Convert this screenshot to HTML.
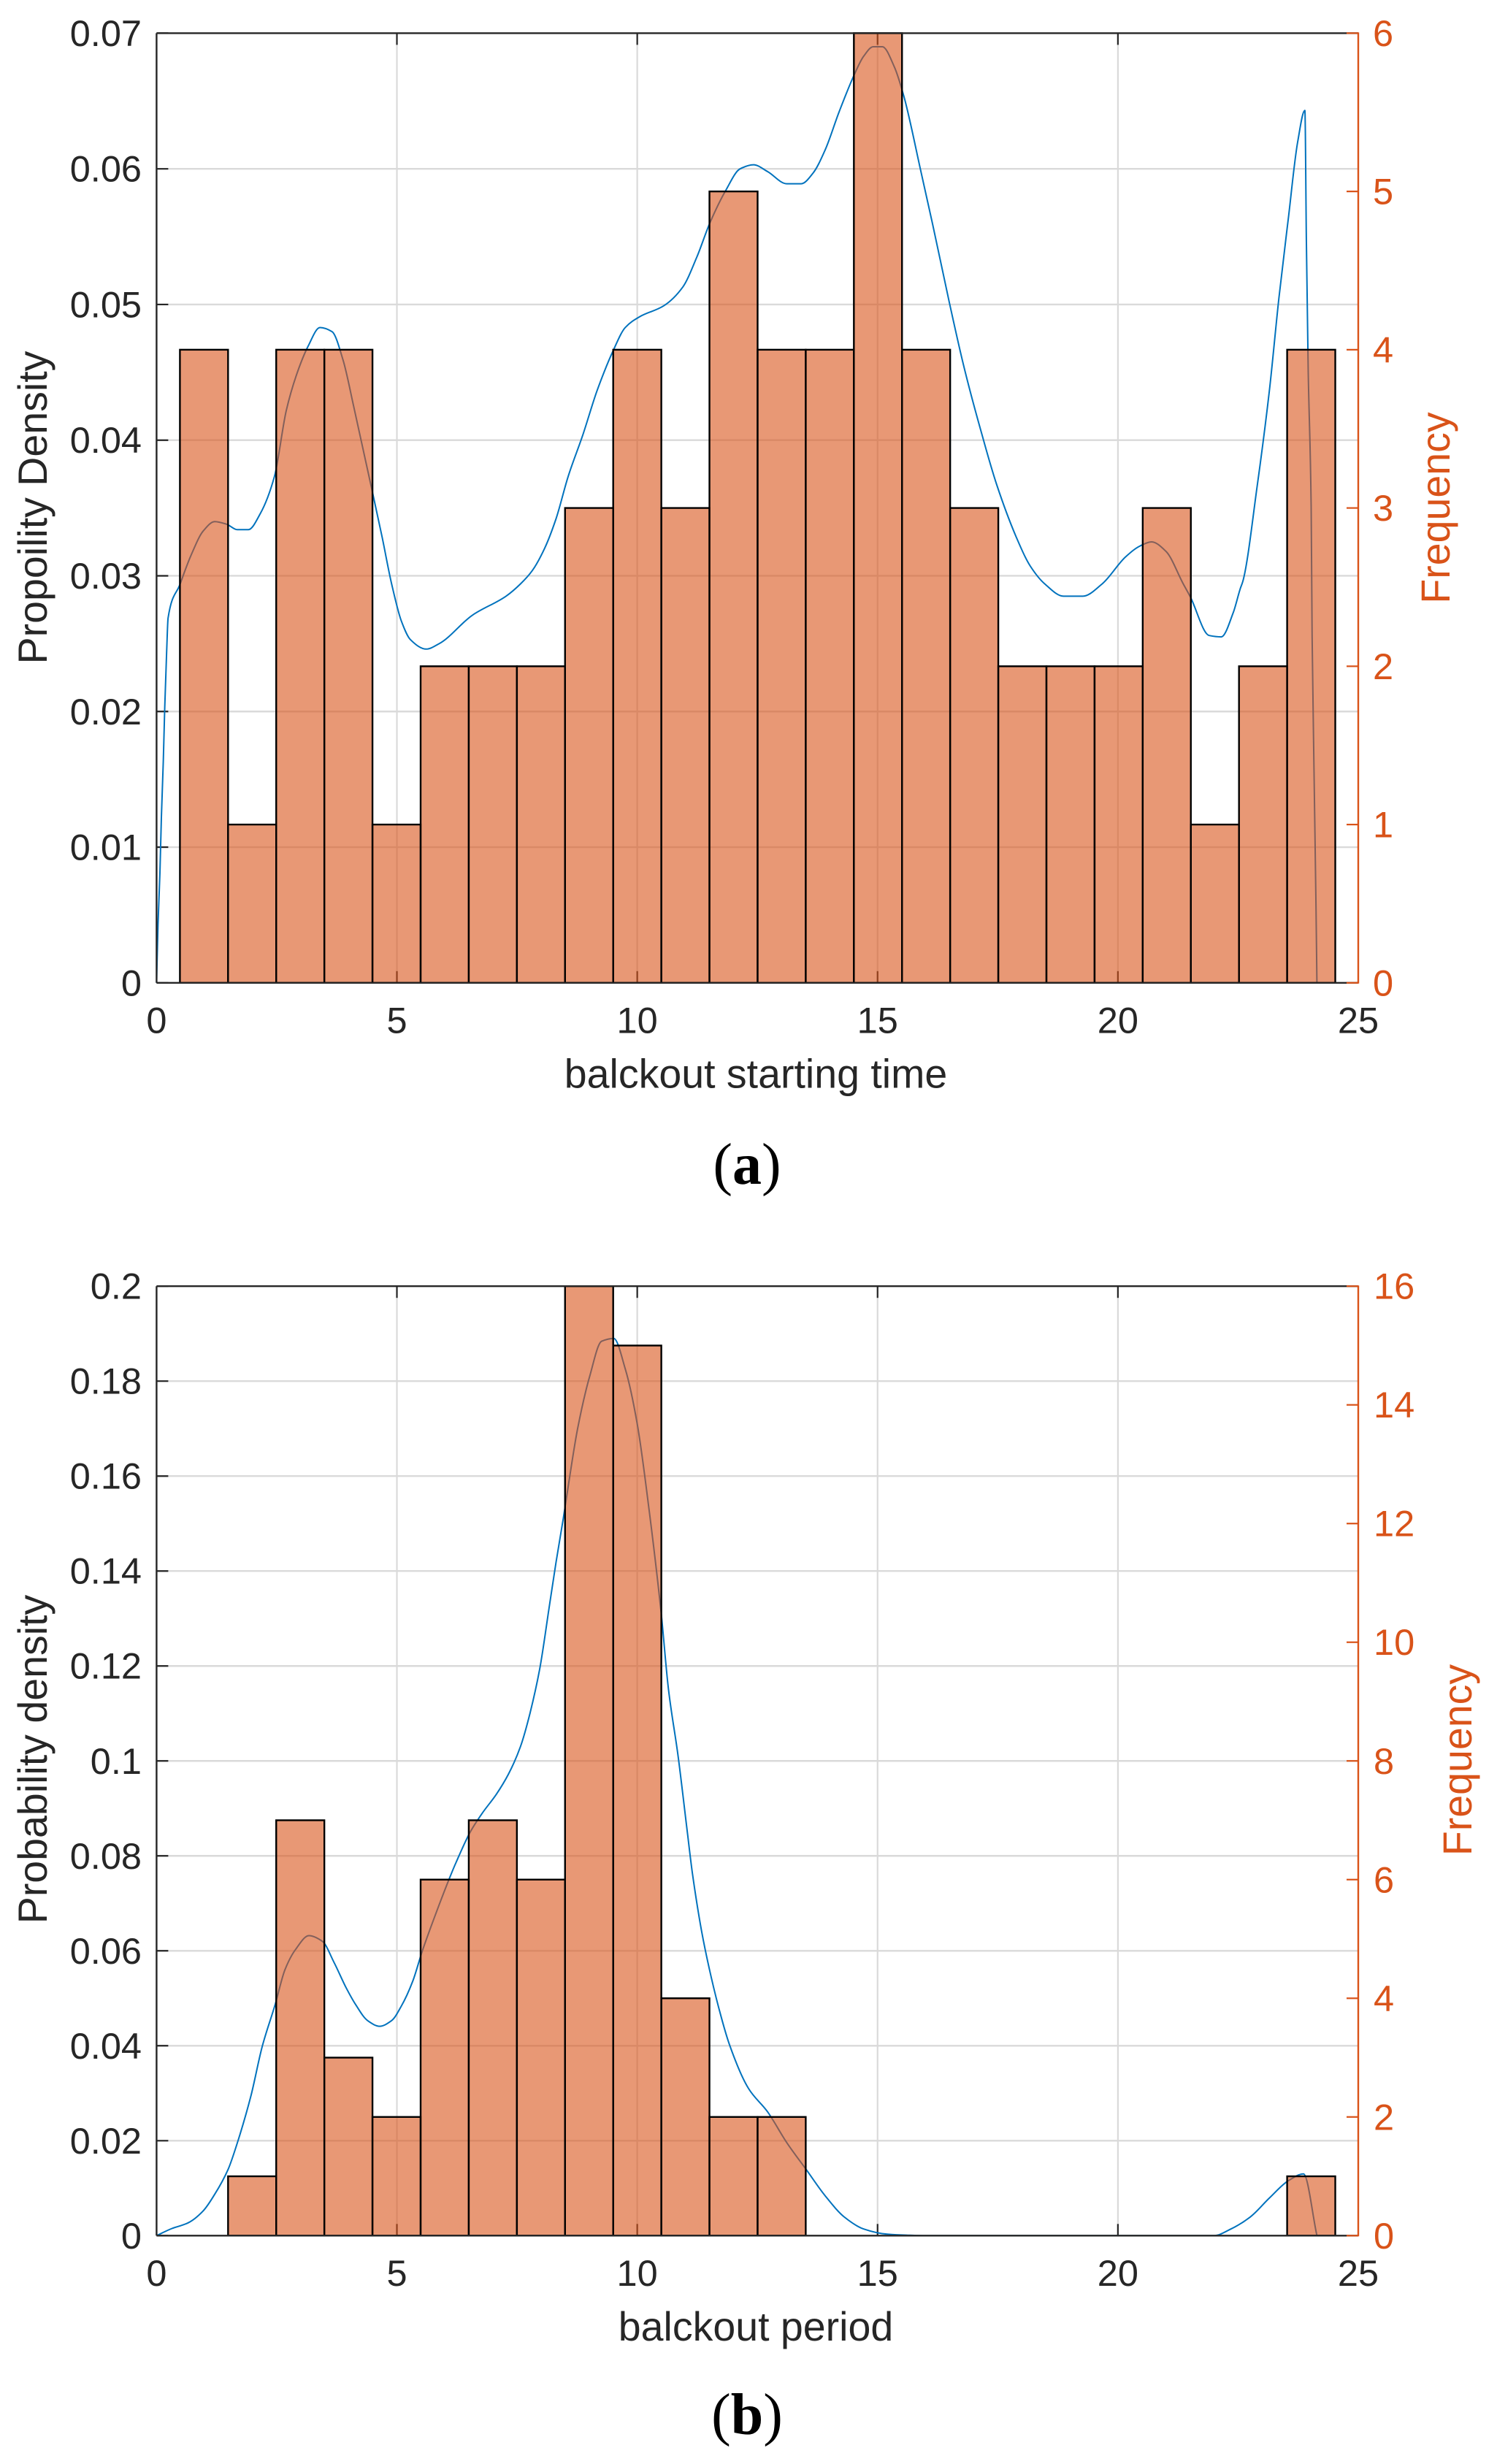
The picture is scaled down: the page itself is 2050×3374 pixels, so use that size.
<!DOCTYPE html>
<html lang="en">
<head>
<meta charset="utf-8">
<title>Blackout histograms</title>
<style>
html,body{margin:0;padding:0;background:#fff;width:2050px;height:3374px;overflow:hidden}
svg{display:block}
text{font-family:"Liberation Sans",sans-serif}
.cap{font-family:"Liberation Serif",serif}
</style>
</head>
<body>
<svg id="figure" xmlns="http://www.w3.org/2000/svg" width="2050" height="3374" viewBox="0 0 2050 3374">
<rect x="0" y="0" width="2050" height="3374" fill="#ffffff"/>
<text class="cap" x="1023" y="1621" font-size="80" text-anchor="middle" fill="#000">(<tspan font-weight="bold">a</tspan>)</text>
<text class="cap" x="1023" y="3333" font-size="80" text-anchor="middle" fill="#000">(<tspan font-weight="bold">b</tspan>)</text>
</svg>
<script>
const xTicks = [0, 5, 10, 15, 20, 25];
const xTickLabels = ['0', '5', '10', '15', '20', '25'];

const binsA = [1,2,3,4,5,6,7,8,9,10,11,12,13,14,15,16,17,18,19,20,21,22,23,24];
const countsA = [4,1,4,4,1,2,2,2,3,4,3,5,4,4,6,4,3,2,2,2,3,1,2,4];
const yTicksA = [0,0.01,0.02,0.03,0.04,0.05,0.06,0.07];
const yTickLabelsA = ['0','0.01','0.02','0.03','0.04','0.05','0.06','0.07'];
const freqTicksA = [0,1,2,3,4,5,6];
const freqTickLabelsA = ['0','1','2','3','4','5','6'];
const curveXA = [0,0.03,0.07,0.1,0.14,0.17,0.21,0.24,0.49,0.715,0.97,1.21,1.46,1.68,1.91,2.16,2.45,2.7,2.9,3.15,3.4,3.65,3.88,4.1,4.49,4.69,4.89,5.09,5.28,5.61,5.88,6.57,7.27,7.57,7.82,8.07,8.31,8.56,8.86,9.16,9.5,9.75,10.05,10.55,10.95,11.24,11.51,11.84,12.14,12.42,12.71,13.11,13.41,13.66,13.91,14.2,14.51,14.71,14.91,15.1,15.35,15.55,15.89,16.14,16.49,16.79,17.18,17.48,17.88,18.18,18.48,18.87,19.27,19.67,20.16,20.46,20.7,21,21.36,21.5,21.9,22.15,22.4,22.55,22.6,22.9,23.15,23.35,23.55,23.74,23.89,23.92,23.96,24.02,24.04,24.08,24.12,24.14];
const curveYA = [0,0.0043,0.0081,0.0122,0.0163,0.0203,0.0244,0.0269,0.0294,0.0315,0.0333,0.034,0.0338,0.0334,0.0334,0.0346,0.0373,0.0422,0.0447,0.0469,0.0483,0.048,0.0459,0.0425,0.0362,0.0329,0.0294,0.0267,0.0253,0.0246,0.025,0.0271,0.0285,0.0294,0.0304,0.032,0.0342,0.0373,0.0403,0.0436,0.0466,0.0483,0.0491,0.0499,0.0513,0.0535,0.056,0.0584,0.06,0.0603,0.0598,0.0589,0.0589,0.0597,0.0614,0.0642,0.0669,0.0683,0.069,0.069,0.0675,0.0653,0.06,0.056,0.0502,0.0455,0.0403,0.0367,0.0329,0.0307,0.0294,0.0285,0.0285,0.0294,0.0314,0.0322,0.0325,0.0318,0.0294,0.0285,0.0256,0.0255,0.0273,0.0291,0.0296,0.0367,0.0436,0.0505,0.0565,0.062,0.0643,0.0549,0.045,0.0351,0.0256,0.0157,0.0058,0];

const binsB = [2,3,4,5,6,7,8,9,10,11,12,13,24];
const countsB = [1,7,3,2,6,7,6,16,15,4,2,2,1];
const yTicksB = [0,0.02,0.04,0.06,0.08,0.1,0.12,0.14,0.16,0.18,0.2];
const yTickLabelsB = ['0','0.02','0.04','0.06','0.08','0.1','0.12','0.14','0.16','0.18','0.2'];
const freqTicksB = [0,2,4,6,8,10,12,14,16];
const freqTickLabelsB = ['0','2','4','6','8','10','12','14','16'];
const curveXB = [0,0.32,0.66,0.96,1.21,1.49,1.71,1.96,2.2,2.47,2.67,2.9,3.17,3.45,3.69,3.94,4.14,4.39,4.64,4.89,5.09,5.33,5.53,5.88,6.13,6.23,6.53,6.77,7.07,7.32,7.57,7.77,7.97,8.16,8.31,8.46,8.56,8.76,9.01,9.26,9.51,9.75,10,10.25,10.5,10.65,10.85,11.05,11.15,11.34,11.54,11.74,11.93,12.32,12.71,13.11,13.51,13.91,14.31,14.71,15.2,15.6,16,22,22.35,22.75,23.15,23.55,23.86,24.14];
const curveYB = [0,0.0015,0.0027,0.0051,0.0087,0.014,0.0205,0.0293,0.0399,0.0488,0.056,0.0604,0.0632,0.062,0.0576,0.0523,0.0487,0.0453,0.0441,0.0453,0.0483,0.0536,0.06,0.0697,0.0762,0.0786,0.0851,0.0889,0.093,0.0972,0.103,0.1101,0.1193,0.1318,0.1418,0.151,0.1576,0.17,0.181,0.1884,0.189,0.1826,0.171,0.1526,0.1309,0.1151,0.101,0.0843,0.0762,0.0641,0.0544,0.0463,0.0399,0.0309,0.0261,0.0196,0.014,0.0084,0.0039,0.0014,0.0003,0.0001,0,0,0.0014,0.0039,0.0079,0.0116,0.013,0];

const NS = 'http://www.w3.org/2000/svg';
const svg = document.getElementById('figure');
const INK = '#262626';
const ORANGE = '#D95319';
const GRID = '#dadada';

function line(parent, name, x1, y1, x2, y2, color, width) {
  const el = document.createElementNS(NS, 'line');
  
  
  el.setAttribute('x1', x1);
  el.setAttribute('y1', y1);
  el.setAttribute('x2', x2);
  el.setAttribute('y2', y2);
  el.setAttribute('stroke', color);
  el.setAttribute('stroke-width', width);
  parent.appendChild(el);
  return el;
}

function label(parent, name, x, y, str, anchor, size, color, rotate) {
  const el = document.createElementNS(NS, 'text');
  
  
  el.setAttribute('x', x);
  el.setAttribute('y', y);
  el.setAttribute('text-anchor', anchor);
  el.setAttribute('font-size', size);
  el.setAttribute('fill', color);
  if (rotate) el.setAttribute('transform', 'rotate(-90 ' + x + ' ' + y + ')');
  el.textContent = str;
  parent.appendChild(el);
  return el;
}

/* Monotone cubic path through the points, so the curve stays smooth without overshooting. */
function smoothPath(px, py) {
  const n = px.length;
  const slope = [];
  for (let i = 0; i < n - 1; i++) slope.push((py[i + 1] - py[i]) / (px[i + 1] - px[i]));
  const tan = [slope[0]];
  for (let i = 1; i < n - 1; i++) {
    if (slope[i - 1] * slope[i] <= 0) {
      tan.push(0);
    } else {
      const h0 = px[i] - px[i - 1], h1 = px[i + 1] - px[i];
      const w0 = 2 * h1 + h0, w1 = h1 + 2 * h0;
      tan.push((w0 + w1) / (w0 / slope[i - 1] + w1 / slope[i]));
    }
  }
  tan.push(slope[n - 2]);
  let d = 'M' + px[0].toFixed(1) + ' ' + py[0].toFixed(1);
  for (let i = 0; i < n - 1; i++) {
    const h = (px[i + 1] - px[i]) / 3;
    d += 'C' + (px[i] + h).toFixed(1) + ' ' + (py[i] + tan[i] * h).toFixed(1) + ' ' +
      (px[i + 1] - h).toFixed(1) + ' ' + (py[i + 1] - tan[i + 1] * h).toFixed(1) + ' ' +
      px[i + 1].toFixed(1) + ' ' + py[i + 1].toFixed(1);
  }
  return d;
}

function drawChart(c) {
  const left = 214.4, right = 1860, xMax = 25;
  const binOrigin = 0.486, binWidth = 1.0015;
  const xScale = v => left + (v / xMax) * (right - left);
  const yScale = v => c.bottom - (v / c.yMax) * (c.bottom - c.top);
  const freqScale = v => c.bottom - (v / c.freqMax) * (c.bottom - c.top);

  const g = document.createElementNS(NS, 'g');
  
  
  svg.appendChild(g);

  c.yTicks.forEach((t, i) => {
    if (t > 0 && t < c.yMax) line(g, 'y-gridline', left, yScale(t), right, yScale(t), GRID, 2.4);
  });
  xTicks.forEach(t => {
    if (t > 0 && t < xMax) line(g, 'x-gridline', xScale(t), c.top, xScale(t), c.bottom, GRID, 2.2);
  });

  xTicks.forEach(t => {
    if (t > 0 && t < xMax) {
      line(g, 'x-tick-bottom', xScale(t), c.bottom, xScale(t), c.bottom - 16, INK, 2.2);
      line(g, 'x-tick-top', xScale(t), c.top, xScale(t), c.top + 16, INK, 2.2);
    }
  });
  c.yTicks.forEach(t => {
    line(g, 'y-tick-left', left, yScale(t), left + 16, yScale(t), INK, 2.2);
  });

  const curve = document.createElementNS(NS, 'path');
  
  
  curve.setAttribute('d', smoothPath(c.curveX.map(xScale), c.curveY.map(yScale)));
  curve.setAttribute('fill', 'none');
  curve.setAttribute('stroke', '#0072BD');
  curve.setAttribute('stroke-width', '2');
  curve.setAttribute('stroke-linejoin', 'round');
  g.appendChild(curve);

  c.bins.forEach((b, i) => {
    const x0 = xScale(binOrigin + (b - 1) * binWidth);
    const x1 = xScale(binOrigin + b * binWidth);
    const bar = document.createElementNS(NS, 'rect');
    
    
    bar.setAttribute('x', x0);
    bar.setAttribute('y', freqScale(c.counts[i]));
    bar.setAttribute('width', x1 - x0);
    bar.setAttribute('height', c.bottom - freqScale(c.counts[i]));
    bar.setAttribute('fill', 'rgba(217,83,25,0.6)');
    bar.setAttribute('stroke', '#000000');
    bar.setAttribute('stroke-width', '2.4');
    g.appendChild(bar);
  });

  line(g, 'top-axis-line', left, c.top, right, c.top, INK, 2.4);
  line(g, 'bottom-axis-line', left, c.bottom, right, c.bottom, INK, 2.4);
  line(g, 'left-axis-line', left, c.top, left, c.bottom, INK, 2.4);
  line(g, 'right-axis-line', right, c.top - 1, right, c.bottom + 1, ORANGE, 2.4);
  c.freqTicks.forEach(t => {
    line(g, 'right-axis-tick', right - 16, freqScale(t), right, freqScale(t), ORANGE, 2.2);
  });

  xTicks.forEach((t, i) => {
    label(g, 'x-tick-label', xScale(t), c.bottom + 68.5, xTickLabels[i], 'middle', 50.5, INK, false);
  });
  c.yTicks.forEach((t, i) => {
    label(g, 'y-tick-label', 194, yScale(t) + 17.5, c.yTickLabels[i], 'end', 50.5, INK, false);
  });
  c.freqTicks.forEach((t, i) => {
    label(g, 'frequency-tick-label', c.freqLabelX, freqScale(t) + 17.5, c.freqTickLabels[i], 'start', 50.5, ORANGE, false);
  });

  label(g, 'x-axis-title', 1035, c.bottom + 143.5, c.xTitle, 'middle', 55.5, INK, false);
  label(g, 'y-axis-title', 64, c.yTitleY, c.yTitle, 'middle', 55.5, INK, true);
  label(g, 'frequency-axis-title', c.freqTitleX, c.freqTitleY, 'Frequency', 'middle', 55.5, ORANGE, true);
}

drawChart({
  name: 'chart-a',
  top: 45.4, bottom: 1345.8, yMax: 0.07, freqMax: 6,
  bins: binsA, counts: countsA,
  curveX: curveXA, curveY: curveYA,
  yTicks: yTicksA, yTickLabels: yTickLabelsA,
  freqTicks: freqTicksA, freqTickLabels: freqTickLabelsA,
  xTitle: 'balckout starting time',
  yTitle: 'Propoility Density',
  yTitleY: 695,
  freqLabelX: 1880,
  freqTitleX: 1985,
  freqTitleY: 695.5
});

drawChart({
  name: 'chart-b',
  top: 1761.2, bottom: 3061.3, yMax: 0.2, freqMax: 16,
  bins: binsB, counts: countsB,
  curveX: curveXB, curveY: curveYB,
  yTicks: yTicksB, yTickLabels: yTickLabelsB,
  freqTicks: freqTicksB, freqTickLabels: freqTickLabelsB,
  xTitle: 'balckout period',
  yTitle: 'Probability density',
  yTitleY: 2409,
  freqLabelX: 1881,
  freqTitleX: 2015,
  freqTitleY: 2410
});
</script>
</body>
</html>
